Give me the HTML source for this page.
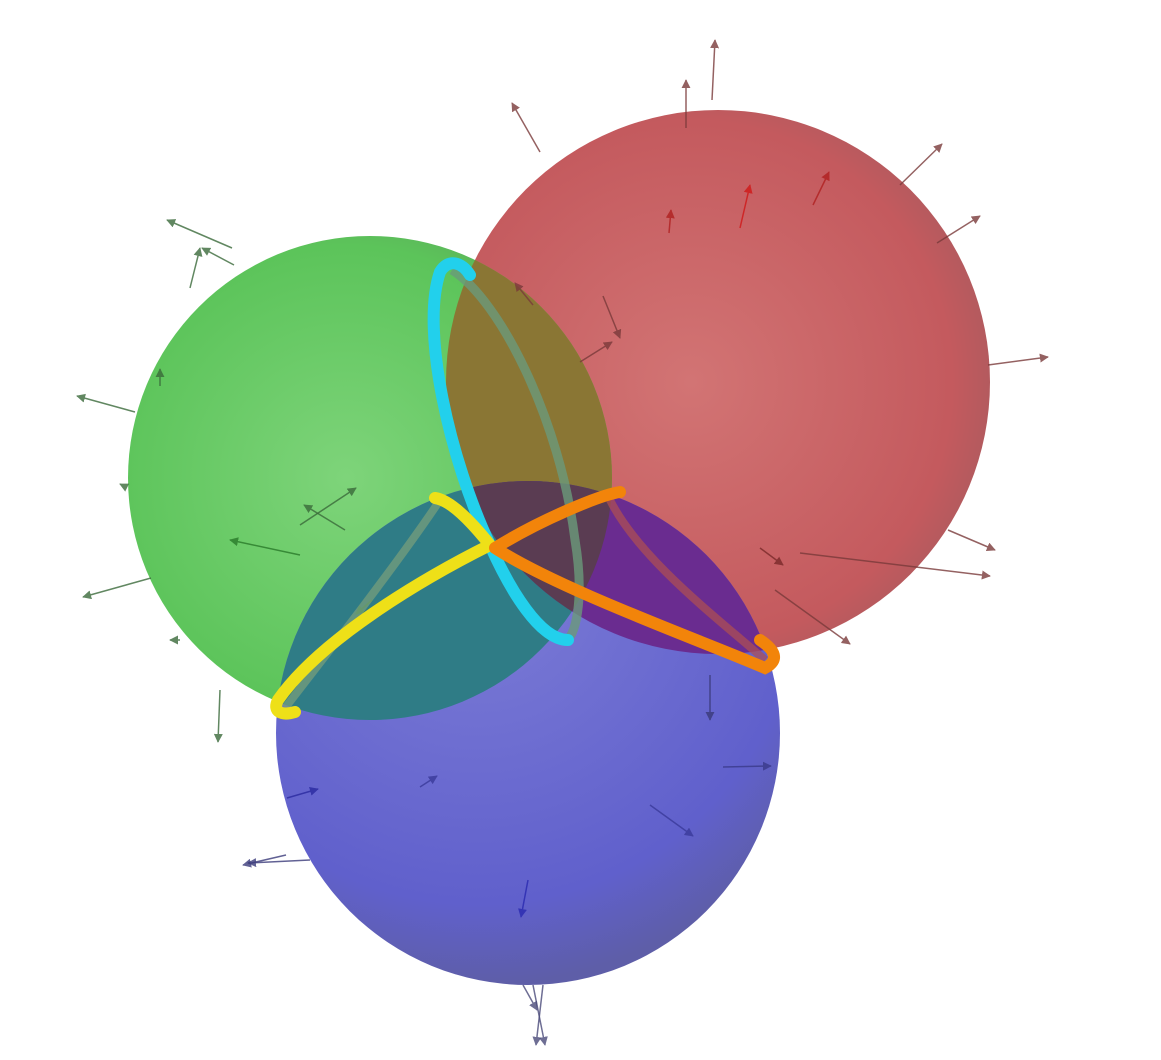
<!DOCTYPE html>
<html><head><meta charset="utf-8"><style>
html,body{margin:0;padding:0;background:#fff;width:1161px;height:1060px;overflow:hidden}
svg{display:block}
</style></head><body>
<svg id="scene" width="1161" height="1060" viewBox="0 0 1161 1060" xmlns="http://www.w3.org/2000/svg">
<defs id="defs">
<radialGradient id="gr" cx="0.45" cy="0.5" r="0.6"><stop offset="0" stop-color="#d27474"/><stop offset="0.8" stop-color="#c45a5e"/><stop offset="1" stop-color="#a85a5e"/></radialGradient>
<radialGradient id="gg" cx="0.45" cy="0.5" r="0.6"><stop offset="0" stop-color="#7ed47a"/><stop offset="0.8" stop-color="#5cc45a"/><stop offset="1" stop-color="#5aa85a"/></radialGradient>
<radialGradient id="gb" cx="0.4" cy="0.2" r="0.8"><stop offset="0" stop-color="#7c7cd6"/><stop offset="0.8" stop-color="#6060cc"/><stop offset="1" stop-color="#5e5ea8"/></radialGradient>
<marker id="ah" viewBox="0 0 10 10" refX="9" refY="5" markerWidth="6" markerHeight="6" orient="auto"><path d="M0,0L10,5L0,10z" fill="context-stroke"/></marker>
</defs>
<g id="spheres"></g>
<g id="arrows"></g>
<g id="tubes">
<path d="M452,270 C500,300 560,420 575,540 C585,600 575,640 565,640" fill="none" stroke="#6a9a7a" stroke-width="9" opacity="0.8"/>
<path d="M440,500 C400,560 330,650 285,708" fill="none" stroke="#7aa07a" stroke-width="8" opacity="0.7"/>
<path d="M610,500 C640,560 720,620 765,660" fill="none" stroke="#b05050" stroke-width="8" opacity="0.7"/>
<path d="M490,545 C450,460 420,330 440,272 C448,258 462,262 470,275 M490,545 C510,590 540,640 568,640" fill="none" stroke="#22d0ec" stroke-width="12" stroke-linecap="round"/>
<path d="M490,545 C420,580 320,640 278,700 C272,712 282,716 295,712 M490,545 C470,520 450,500 435,498" fill="none" stroke="#eee018" stroke-width="12" stroke-linecap="round"/>
<path d="M495,548 C560,590 700,640 765,668 C780,660 775,650 760,640 M495,548 C540,520 600,495 620,492" fill="none" stroke="#f2840a" stroke-width="12" stroke-linecap="round"/>
</g>
</svg>
<script>
const sphereNames=['red-sphere','green-sphere','blue-sphere'];
const sphereCx=[718,370,528];
const sphereCy=[382,478,733];
const sphereR=[272,242,252];
const sphereFill=['url(#gr)','url(#gg)','url(#gb)'];
// overlap pairs [a,b] and their blended colours
const overlapA=[0,1,0];
const overlapB=[1,2,2];
const overlapCol=['#8a7634','#2f7c86','#6a2c90'];
const overlapNames=['red-green-overlap','green-blue-overlap','red-blue-overlap'];
const arrowX0=[712,686,540,900,937,988,948,813,740,669,603,580,533,190,160,135,124,151,180,220,234,232,300,286,310,800,775,723,650,528,543,533,523,420,372,287,300,345,710,760];
const arrowY0=[100,128,152,185,243,365,530,205,228,233,296,362,305,288,386,412,486,578,640,690,265,248,555,855,860,553,590,767,805,880,985,985,985,787,600,798,525,530,675,548];
const arrowX1=[715,686,512,942,980,1048,995,829,750,671,620,612,515,200,160,77,120,83,170,218,202,167,230,243,248,990,850,771,693,521,536,545,537,437,356,318,356,304,710,783];
const arrowY1=[40,80,103,144,216,357,550,172,185,210,338,342,283,248,369,396,484,597,640,742,248,220,540,865,863,576,644,766,836,917,1045,1045,1010,776,614,789,488,505,720,565];
const arrowCol=['#7a3a3a','#7a3a3a','#7a3a3a','#7a3a3a','#7a3a3a','#7a3a3a','#7a3a3a','#b02020','#d01818','#b02020','#7a3a3a','#7a3a3a','#7a3a3a','#3a6a3a','#3a6a3a','#3a6a3a','#3a6a3a','#3a6a3a','#3a6a3a','#3a6a3a','#3a6a3a','#3a6a3a','#2a7a2a','#3a3a7a','#3a3a7a','#7a3a3a','#7a3a3a','#3a3a8a','#3a3a9a','#2a2ab0','#4a4a7a','#4a4a7a','#4a4a7a','#3a3a9a','#3a8a3a','#2a2aa0','#3a6a3a','#3a6a3a','#3a3a7a','#7a2a2a'];
const svgNS='http://www.w3.org/2000/svg';
const defs=document.getElementById('defs');
const sg=document.getElementById('spheres');
for(let i=0;i<3;i++){
  const cp=document.createElementNS(svgNS,'clipPath');cp.setAttribute('id','clip'+i);
  const cc=document.createElementNS(svgNS,'circle');
  cc.setAttribute('cx',sphereCx[i]);cc.setAttribute('cy',sphereCy[i]);cc.setAttribute('r',sphereR[i]);
  cp.appendChild(cc);defs.appendChild(cp);
  const c=document.createElementNS(svgNS,'circle');
  c.setAttribute('cx',sphereCx[i]);c.setAttribute('cy',sphereCy[i]);c.setAttribute('r',sphereR[i]);
  c.setAttribute('fill',sphereFill[i]);
  
  
  sg.appendChild(c);
}
for(let k=0;k<overlapA.length;k++){
  const a=overlapA[k],b=overlapB[k];
  const g=document.createElementNS(svgNS,'g');g.setAttribute('clip-path','url(#clip'+a+')');
  const c=document.createElementNS(svgNS,'circle');
  c.setAttribute('cx',sphereCx[b]);c.setAttribute('cy',sphereCy[b]);c.setAttribute('r',sphereR[b]);
  c.setAttribute('fill',overlapCol[k]);
  
  
  g.appendChild(c);sg.appendChild(g);
}
// triple overlap
const g0=document.createElementNS(svgNS,'g');g0.setAttribute('clip-path','url(#clip0)');
const g1=document.createElementNS(svgNS,'g');g1.setAttribute('clip-path','url(#clip1)');
const ct=document.createElementNS(svgNS,'circle');
ct.setAttribute('cx',sphereCx[2]);ct.setAttribute('cy',sphereCy[2]);ct.setAttribute('r',sphereR[2]);
ct.setAttribute('fill','#5a3c52');


g1.appendChild(ct);g0.appendChild(g1);sg.appendChild(g0);
const ag=document.getElementById('arrows');
for(let i=0;i<arrowX0.length;i++){
  const l=document.createElementNS(svgNS,'line');
  l.setAttribute('x1',arrowX0[i]);l.setAttribute('y1',arrowY0[i]);l.setAttribute('x2',arrowX1[i]);l.setAttribute('y2',arrowY1[i]);
  l.setAttribute('stroke',arrowCol[i]);l.setAttribute('stroke-width',1.5);l.setAttribute('opacity',0.8);
  l.setAttribute('marker-end','url(#ah)');
  
  
  ag.appendChild(l);
}
</script>
</body></html>
